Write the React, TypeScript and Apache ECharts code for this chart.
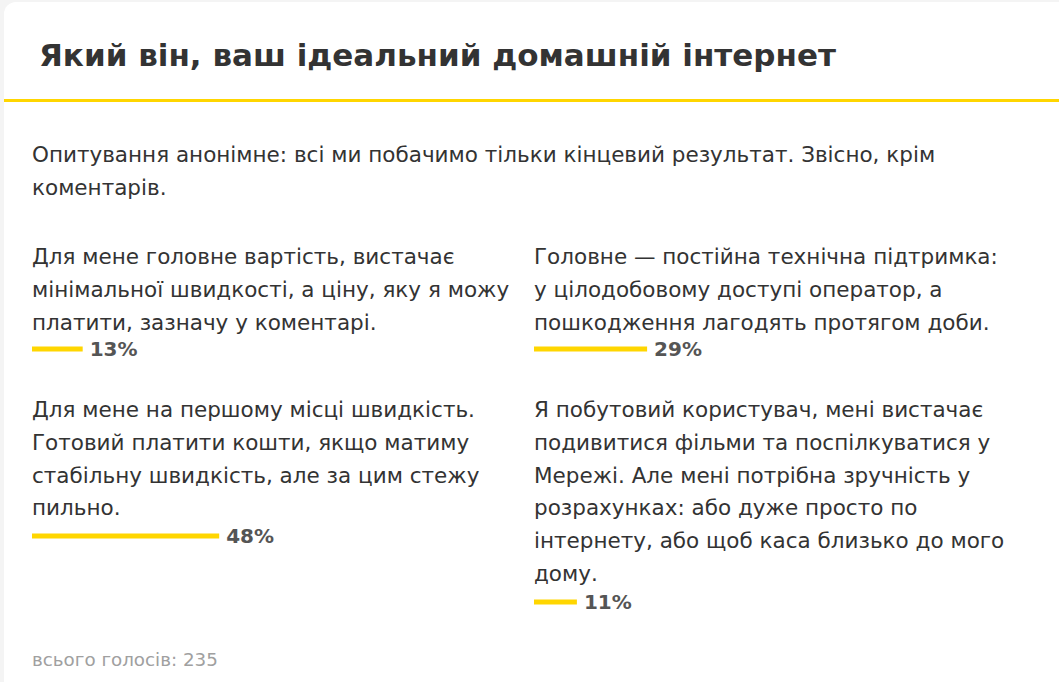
import React, { useEffect, useRef } from "react";
import * as echarts from "echarts";

const title = "Який він, ваш ідеальний домашній інтернет";
const introLines = [
  "Опитування анонімне: всі ми побачимо тільки кінцевий результат. Звісно, крім",
  "коментарів.",
];
const answers = [
  ["Для мене головне вартість, вистачає", "мінімальної швидкості, а ціну, яку я можу", "платити, зазначу у коментарі."],
  ["Головне — постійна технічна підтримка:", "у цілодобовому доступі оператор, а", "пошкодження лагодять протягом доби."],
  ["Для мене на першому місці швидкість.", "Готовий платити кошти, якщо матиму", "стабільну швидкість, але за цим стежу", "пильно."],
  ["Я побутовий користувач, мені вистачає", "подивитися фільми та поспілкуватися у", "Мережі. Але мені потрібна зручність у", "розрахунках: або дуже просто по", "інтернету, або щоб каса близько до мого", "дому."],
];
const percents = [13, 29, 48, 11];
const totalVotes = 235;

const FONT = "DejaVu Sans";
const YELLOW = "#FFD600";
const TEXT = "#333333";

export default function App() {
  const ref = useRef<HTMLDivElement>(null);
  useEffect(() => {
    if (!ref.current) return;
    const chart = echarts.init(ref.current, undefined, { renderer: "svg" });
    const colX = [32, 534, 32, 534];
    const textTop = [240, 240, 393, 393];
    const lh = 32.8;
    const barY = [349, 349, 536, 602];

    const grids: any[] = [];
    const xAxes: any[] = [];
    const yAxes: any[] = [];
    const series: any[] = [];
    percents.forEach((p, i) => {
      grids.push({ left: colX[i], top: barY[i] - 10, width: 390, height: 20, containLabel: false });
      xAxes.push({ type: "value", gridIndex: i, min: 0, max: 100, show: false });
      yAxes.push({ type: "category", gridIndex: i, data: [""], show: false });
      series.push({
        type: "bar",
        xAxisIndex: i,
        yAxisIndex: i,
        data: [p],
        barWidth: 5,
        itemStyle: { color: YELLOW },
        silent: true,
        label: {
          show: true,
          position: "right",
          distance: 7,
          formatter: "{c}%",
          fontFamily: FONT,
          fontSize: 20,
          fontWeight: "bold",
          color: "#555555",
        },
      });
    });

    const graphics: any[] = [
      { type: "rect", shape: { x: 0, y: 0, width: 1059, height: 682 }, style: { fill: "#f4f4f4" }, z: -10 },
      { type: "rect", shape: { x: 4, y: 2, width: 1080, height: 720, r: 12 }, style: { fill: "#ffffff" }, z: -9 },
      { type: "rect", shape: { x: 4, y: 99, width: 1060, height: 3 }, style: { fill: YELLOW }, z: -8 },
      {
        type: "text",
        x: 39,
        y: 55,
        style: { text: title, fontFamily: FONT, fontSize: 31, fontWeight: "bold", fill: TEXT, verticalAlign: "middle" },
      },
      {
        type: "text",
        x: 32,
        y: 155 - lh / 2,
        style: { text: introLines.join("\n"), fontFamily: FONT, fontSize: 21.5, lineHeight: lh, fill: TEXT, verticalAlign: "top" },
      },
      {
        type: "text",
        x: 32,
        y: 659,
        style: { text: `всього голосів: ${totalVotes}`, fontFamily: FONT, fontSize: 18.3, fill: "#a0a0a0", verticalAlign: "middle" },
      },
    ];
    answers.forEach((lines, i) => {
      graphics.push({
        type: "text",
        x: colX[i],
        y: textTop[i],
        style: { text: lines.join("\n"), fontFamily: FONT, fontSize: 21.5, lineHeight: lh, fill: TEXT, verticalAlign: "top" },
      });
    });

    chart.setOption({
      animation: false,
      grid: grids,
      xAxis: xAxes,
      yAxis: yAxes,
      series,
      graphic: graphics,
    });
    return () => chart.dispose();
  }, []);
  return <div ref={ref} style={{ position: "absolute", left: 0, top: 0, width: 1059, height: 682 }} />;
}
